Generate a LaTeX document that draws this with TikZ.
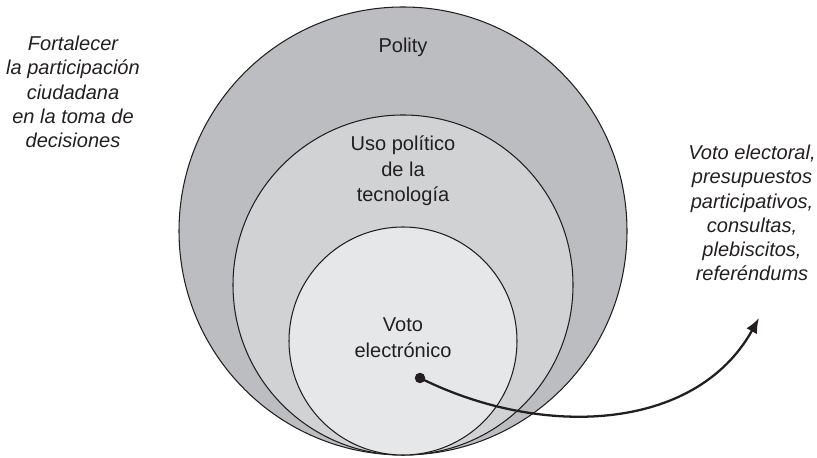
\documentclass[tikz,border=0pt]{standalone}
\usepackage{fontspec}
\setmainfont{Liberation Sans}
\usepackage{tikz}
\usetikzlibrary{arrows.meta}
\definecolor{grisPolity}{HTML}{BCBDC0}
\definecolor{grisUso}{HTML}{D1D2D4}
\definecolor{grisVoto}{HTML}{E6E7E8}
\definecolor{tinta}{HTML}{231F20}

\begin{document}
\begin{tikzpicture}[font=\fontsize{11.4}{14.6}\selectfont, text=tinta,
        ring/.style={draw=tinta, line width=0.6pt},
        lbl/.style={align=center},
        nota/.style={align=center, font=\fontsize{11.4}{13.8}\selectfont\itshape},
        flecha/.style={-{Latex[length=3mm,width=2.4mm]}, line width=1.3pt, tinta}]
        \useasboundingbox (0,0) rectangle (16.34,9.16);
        % circulos anidados, tangentes abajo
        \draw[ring, fill=grisPolity] (8.06,4.54) circle (4.48);
        \draw[ring, fill=grisUso]    (8.06,3.46) circle (3.40);
        \draw[ring, fill=grisVoto]   (8.06,2.34) circle (2.28);
        \node[lbl] (polity) at (8.06,8.22) {Polity};
        \node[lbl] (uso)    at (8.06,5.74) {Uso político\\de la\\tecnología};
        \node[lbl] (voto)   at (8.06,2.40) {Voto\\electrónico};
        \node[nota] (fin)  at (1.46,7.32) {Fortalecer\\la participación\\ciudadana\\en la toma de\\decisiones};
        \node[nota] (mec)  at (15.04,4.90) {Voto electoral,\\presupuestos\\participativos,\\consultas,\\plebiscitos,\\referéndums};
        \node[circle, fill=tinta, inner sep=0pt, minimum size=0.21cm] (punto) at (8.40,1.60) {};
        \coordinate (tip) at (15.18,2.80);
        \draw[flecha] (punto.center) .. controls (10.8,0.4) and (13.9,0.5) .. (tip);
    \end{tikzpicture}
\end{document}
